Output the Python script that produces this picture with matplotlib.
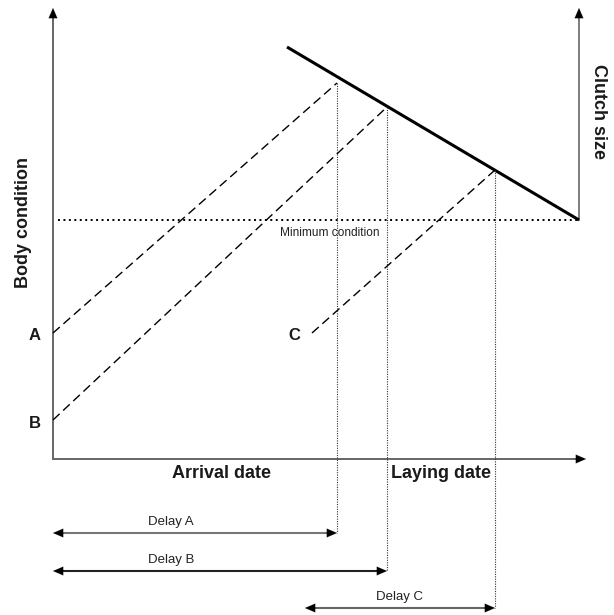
import matplotlib
matplotlib.use("Agg")
import matplotlib.pyplot as plt

plt.rcParams['font.family'] = ['Liberation Sans', 'DejaVu Sans']

# Conceptual diagram values (arbitrary units; origin at axis corner)
min_condition = 239
clutch_x = [234, 526]
clutch_y = [412, 239]
birds = ["A", "B", "C"]
start_x = [0, 0, 259]
start_y = [126, 39, 126]
lay_x = [284, 334, 442]
lay_y = [376, 352, 289]
delay_start = [0, 0, 252]
delay_y = [-74, -112, -149]
delay_labels = ["Delay A", "Delay B", "Delay C"]
delay_colors = ['#777777', '#222222', '#666666']
x_axis_end = 533
y_axis_end = 451

fig = plt.figure(figsize=(6.14, 6.15), dpi=100)
ax = fig.add_axes([0, 0, 1, 1])
ax.set_xlim(-53, 561)
ax.set_ylim(-156, 459)
ax.axis('off')

axis_col = '#666666'
HEAD = '-|>,head_length=0.6,head_width=0.26'


def arrow_head(tip, tail):
    ax.annotate('', xy=tip, xytext=tail,
                arrowprops=dict(arrowstyle=HEAD, color='black', lw=0.1,
                                mutation_scale=12, shrinkA=0, shrinkB=0))


# Axes with arrows
ax.plot([0, 0], [0, y_axis_end - 4], color=axis_col, lw=1.4)
ax.plot([0, x_axis_end - 4], [0, 0], color=axis_col, lw=1.4)
ax.plot([clutch_x[1], clutch_x[1]], [min_condition, y_axis_end - 4], color=axis_col, lw=1.2)
arrow_head((0, y_axis_end), (0, y_axis_end - 12))
arrow_head((x_axis_end, 0), (x_axis_end - 12, 0))
arrow_head((clutch_x[1], y_axis_end), (clutch_x[1], y_axis_end - 12))

# Minimum condition
ax.plot([5, clutch_x[1]], [min_condition, min_condition], color='black',
        lw=1.4, linestyle=(0, (1, 1.8)))
ax.text(227, min_condition - 13, 'Minimum condition', fontsize=8.6, color='#222222',
        ha='left', va='center')

# Clutch size line
ax.plot(clutch_x, clutch_y, color='black', lw=2.2, solid_capstyle='butt')

# Body condition trajectories
for b, sx, sy, lx, ly in zip(birds, start_x, start_y, lay_x, lay_y):
    ax.plot([sx, lx], [sy, ly], color='black', lw=1.0, linestyle=(0, (6.5, 3.5)))

for b, sx, sy in zip(birds, start_x, start_y):
    ax.text(sx - 18, sy - 3, b, fontsize=12, fontweight='bold', ha='center',
            va='center', color='#1a1a1a')

# Vertical dotted lines and delay arrows
for lx, ly, ds, dy, lab, col in zip(lay_x, lay_y, delay_start, delay_y,
                                    delay_labels, delay_colors):
    ax.plot([lx, lx], [ly, dy], color='#333333', lw=0.8, linestyle=(0, (1, 1.2)))
    ax.plot([ds + 4, lx - 4], [dy, dy], color=col, lw=1.5)
    arrow_head((lx, dy), (lx - 12, dy))
    arrow_head((ds, dy), (ds + 12, dy))
    ax.text((ds + lx) / 2 if lab == 'Delay C' else 118, dy + 11, lab, fontsize=9.5,
            ha='center', va='center', color='#222222')

ax.text(169, -14, 'Arrival date', fontsize=13, fontweight='bold', ha='center',
        va='center', color='#1a1a1a')
ax.text(388, -14, 'Laying date', fontsize=13, fontweight='bold', ha='center',
        va='center', color='#1a1a1a')
ax.text(-30, 236, 'Body condition', fontsize=13, fontweight='bold', ha='center',
        va='center', rotation=90, color='#1a1a1a')
ax.text(546, 347, 'Clutch size', fontsize=13, fontweight='bold', ha='center',
        va='center', rotation=-90, color='#1a1a1a')

fig.savefig('out.png', dpi=100)
